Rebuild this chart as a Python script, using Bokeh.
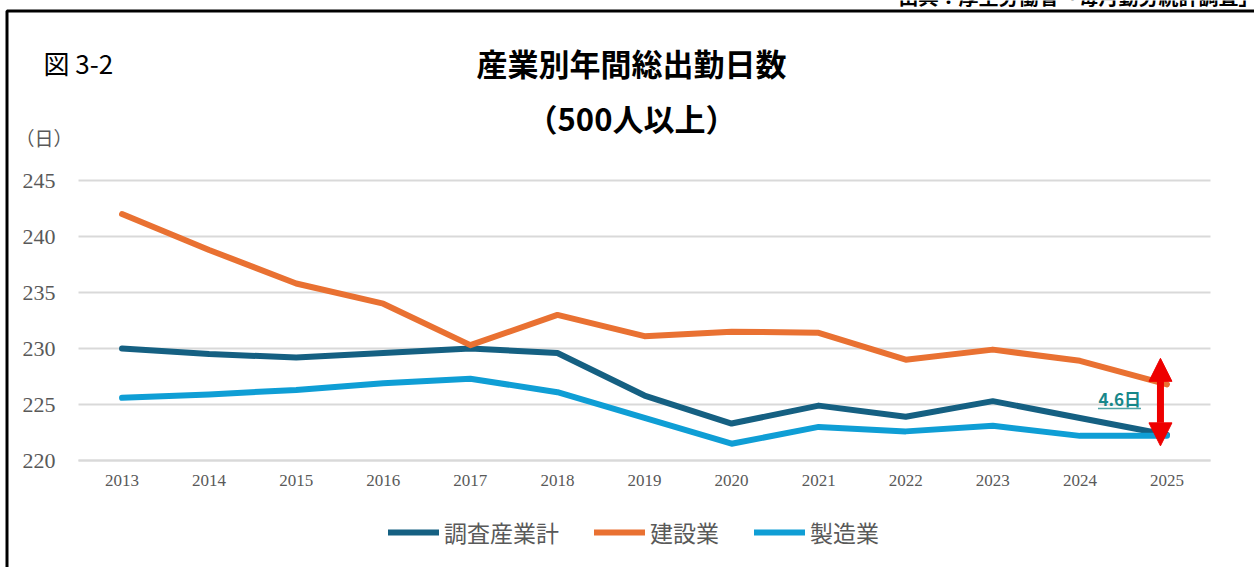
from bokeh.plotting import figure
from bokeh.models import (Range1d, FixedTicker, Label, Legend, LegendItem, Arrow,
                          NormalHead, BoxAnnotation)
from bokeh.embed import file_html
from bokeh.resources import INLINE

# ---------------- data ----------------
years = [2013, 2014, 2015, 2016, 2017, 2018, 2019, 2020, 2021, 2022, 2023, 2024, 2025]
total = [230.0, 229.5, 229.2, 229.6, 230.0, 229.6, 225.8, 223.3, 224.9, 223.9, 225.3, 223.8, 222.3]
construction = [242.0, 238.8, 235.8, 234.0, 230.3, 233.0, 231.1, 231.5, 231.4, 229.0, 229.9, 228.9, 226.8]
manufacturing = [225.6, 225.9, 226.3, 226.9, 227.3, 226.1, 223.8, 221.5, 223.0, 222.6, 223.1, 222.2, 222.2]
series_names = ["調査産業計", "建設業", "製造業"]
y_ticks = [220, 225, 230, 235, 240, 245]
title_text = "産業別年間総出勤日数"
subtitle_text = "（500人以上）"
fig_no_text = "図 3-2"
unit_text = "（日）"
source_text = "出典：厚生労働省「毎月勤労統計調査」"

# ---------------- layout / styles ----------------
colors = ["#156082", "#E97132", "#0F9ED5"]
GRID = "#D9D9D9"
LABEL_GREY = "#595959"
CJK = "Noto Sans CJK JP"
SERIF = "Liberation Serif"
W, H = 1254, 567
PLOT_L, PLOT_R = 78, 1210      # px extent of the plotting area
Y_TOP_PX, PPY = 180, 11.2      # px of the 245 line, px per day
x_lo, x_hi = years[0] - 0.5, years[-1] + 0.5
PPX = (PLOT_R - PLOT_L) / (x_hi - x_lo)


def xd(px):
    return x_lo + (px - PLOT_L) / PPX


def yd(py):
    return y_ticks[-1] - (py - Y_TOP_PX) / PPY


p = figure(width=W, height=H, output_backend="svg", toolbar_location=None,
           x_range=Range1d(xd(0), xd(W)), y_range=Range1d(yd(H), yd(0)),
           min_border=0, min_border_left=0, min_border_right=0,
           min_border_top=0, min_border_bottom=0)
p.outline_line_color = None
p.background_fill_color = "white"
p.border_fill_color = "white"

# axes (drawn at fixed positions inside the canvas)
p.xaxis.fixed_location = y_ticks[0]
p.xaxis.bounds = (x_lo, x_hi)
p.xaxis.ticker = FixedTicker(ticks=years)
p.xaxis.major_label_text_font = SERIF
p.xaxis.major_label_text_font_size = "17px"
p.xaxis.major_label_text_color = LABEL_GREY
p.xaxis.axis_line_color = GRID
p.xaxis.axis_line_width = 2
p.xaxis.major_tick_line_color = None
p.xaxis.minor_tick_line_color = None
p.xaxis.major_label_standoff = 8

p.yaxis.fixed_location = x_lo
p.yaxis.ticker = FixedTicker(ticks=y_ticks)
p.yaxis.major_label_text_font = SERIF
p.yaxis.major_label_text_font_size = "22px"
p.yaxis.major_label_text_color = LABEL_GREY
p.yaxis.axis_line_color = None
p.yaxis.major_tick_line_color = None
p.yaxis.minor_tick_line_color = None
p.yaxis.major_label_standoff = 17

p.xgrid.grid_line_color = None
p.ygrid.ticker = FixedTicker(ticks=y_ticks)
p.ygrid.cross_bounds = (x_lo, x_hi)
p.ygrid.grid_line_color = GRID
p.ygrid.grid_line_width = 2

# lines
renderers = []
for vals, col in zip([total, construction, manufacturing], colors):
    r = p.line(years, vals, line_color=col, line_width=6,
               line_cap="round", line_join="round")
    renderers.append(r)

legend = Legend(items=[LegendItem(label=n, renderers=[r]) for n, r in zip(series_names, renderers)],
                orientation="horizontal", location=(388, 18),
                glyph_width=51, glyph_height=20, label_standoff=5, spacing=35,
                padding=0, margin=0, border_line_color=None, background_fill_alpha=0,
                label_text_font=CJK, label_text_font_size="23px",
                label_text_color=LABEL_GREY)
p.add_layout(legend)

# gap annotation (arrow between construction and manufacturing, last year)
arrow_x = years[-1] - 6.5 / PPX
top_v, bot_v = construction[-1], manufacturing[-1]
gap = round(top_v - bot_v, 1)
red = "#EE0000"
p.add_layout(Arrow(x_start=arrow_x, y_start=bot_v - 10 / PPY, x_end=arrow_x, y_end=top_v + 26 / PPY,
                   line_color=red, line_width=7,
                   start=NormalHead(size=23, fill_color=red, line_color=red, line_width=1),
                   end=NormalHead(size=23, fill_color=red, line_color=red, line_width=1)))
mid_v = (top_v + bot_v) / 2
TEAL = "#17878A"
p.add_layout(Label(x=years[-1], y=mid_v, x_offset=-26, y_offset=12, text=f"{gap}日",
                   text_align="right", text_baseline="middle",
                   text_font=CJK, text_font_style="bold", text_font_size="17px",
                   text_color=TEAL))
ux1 = years[-1] - 26 / PPX
ux0 = ux1 - 43 / PPX
uy = mid_v + 0.15
p.segment(x0=[ux0], y0=[uy], x1=[ux1], y1=[uy], line_color="#4FA3A5", line_width=1.5)

# titles and texts
p.add_layout(Label(x=xd(631), y=yd(62), text=title_text,
                   text_align="center", text_baseline="middle", text_font=CJK,
                   text_font_style="bold", text_font_size="31px", text_color="black"))
p.add_layout(Label(x=xd(631), y=yd(117), text=subtitle_text,
                   text_align="center", text_baseline="middle", text_font=CJK,
                   text_font_style="bold", text_font_size="31px", text_color="black"))
p.add_layout(Label(x=xd(43), y=yd(62), text=fig_no_text,
                   text_align="left", text_baseline="middle", text_font=CJK,
                   text_font_size="26px", text_color="black"))
p.add_layout(Label(x=xd(15), y=yd(137), text=unit_text,
                   text_align="left", text_baseline="middle", text_font=CJK,
                   text_font_size="19px", text_color=LABEL_GREY))
p.add_layout(Label(x=xd(1258), y=yd(-4), text=source_text,
                   text_align="right", text_baseline="alphabetic", text_font=CJK,
                   text_font_style="bold", text_font_size="20px", text_color="black"))

# outer frame (top and left edges visible)
p.add_layout(BoxAnnotation(left=xd(6.5), right=xd(W + 40), top=yd(10.5), bottom=yd(H + 40),
                           fill_alpha=0, line_color="black", line_alpha=1.0, line_width=3))

open("out.html", "w").write(file_html(p, INLINE))
